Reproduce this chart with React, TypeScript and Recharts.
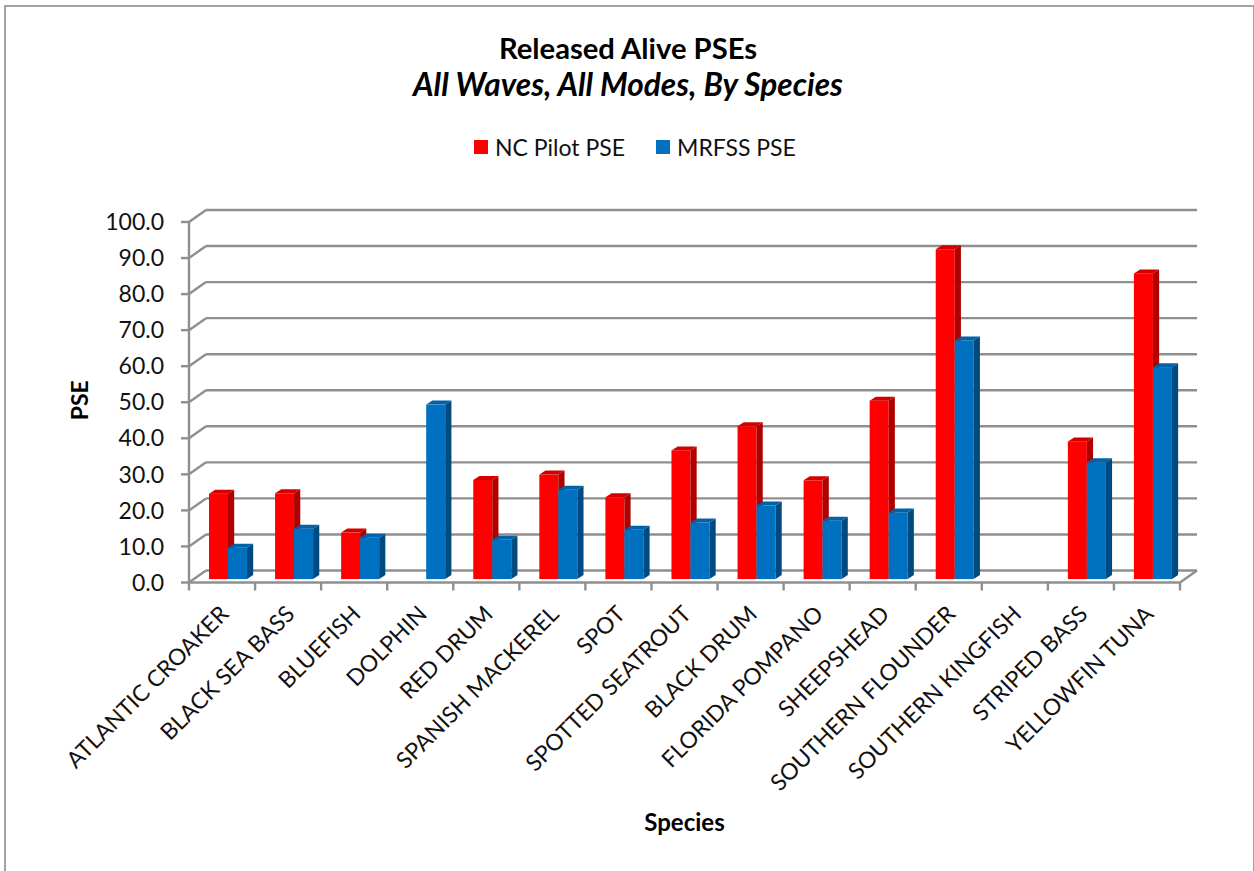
import React from 'react';
import { ComposedChart, Bar, XAxis, YAxis, CartesianGrid, Legend } from 'recharts';

const species = ['ATLANTIC CROAKER','BLACK SEA BASS','BLUEFISH','DOLPHIN','RED DRUM','SPANISH MACKEREL','SPOT','SPOTTED SEATROUT','BLACK DRUM','FLORIDA POMPANO','SHEEPSHEAD','SOUTHERN FLOUNDER','SOUTHERN KINGFISH','STRIPED BASS','YELLOWFIN TUNA'];
const ncPilot = [23.7,23.8,12.9,null,27.5,29,22.7,35.7,42.4,27.4,49.5,91.5,null,38.2,84.8];
const mrfss = [8.7,14,11.5,48.4,10.9,24.8,13.7,15.7,20.4,16.2,18.5,66.2,null,32.4,58.8];
const yTicks = [0,10,20,30,40,50,60,70,80,90,100];

const data = species.map((name, i) => ({ name, nc: ncPilot[i], mrfss: mrfss[i] }));

const FONT = 'Lato, "Open Sans", sans-serif';
const GRAY = '#8f8f8f';
const PLOT_L = 189, PLOT_R = 1180, PLOT_T = 222, PLOT_B = 582.5;
const BAND = (PLOT_R - PLOT_L) / species.length;
const WALL_DX = 17, WALL_DY = -12;

const bar3d = (front: string, top: string, side: string) => (p: any) => {
  if (p.value == null || !(p.height > 0)) return null;
  const x = p.x + 6, y = p.y - 3.4, w = p.width, h = p.height, dx = 6.2, dy = 4;
  return (
    <g>
      <rect x={x} y={y} width={w} height={h} fill={front} />
      <polygon points={`${x},${y} ${x + dx},${y - dy} ${x + w + dx},${y - dy} ${x + w},${y}`} fill={top} />
      <polygon points={`${x + w},${y} ${x + w + dx},${y - dy} ${x + w + dx},${y + h - dy} ${x + w},${y + h}`} fill={side} />
    </g>
  );
};

const gridLine = (p: any) => {
  const { x1, x2, y1 } = p;
  const isFloor = Math.abs(y1 - PLOT_B) < 1;
  return (
    <g key={`g-${y1}`}>
      <line x1={x1} y1={y1} x2={x1 + WALL_DX} y2={y1 + WALL_DY} stroke={GRAY} strokeWidth={2.4} />
      <line x1={x1 + WALL_DX} y1={y1 + WALL_DY} x2={x2 + WALL_DX} y2={y1 + WALL_DY} stroke={GRAY} strokeWidth={2.4} />
      {isFloor && <line x1={x2} y1={y1} x2={x2 + WALL_DX} y2={y1 + WALL_DY} stroke={GRAY} strokeWidth={2.4} />}
    </g>
  );
};

const XTick = (p: any) => {
  const { x, y, payload, index } = p;
  const left = x - BAND / 2;
  const tx = x + 8, ty = y + 25;
  return (
    <g>
      <line x1={left} y1={PLOT_B} x2={left} y2={PLOT_B + 8} stroke={GRAY} strokeWidth={2.4} />
      {index === species.length - 1 && (
        <line x1={left + BAND} y1={PLOT_B} x2={left + BAND} y2={PLOT_B + 8} stroke={GRAY} strokeWidth={2.4} />
      )}
      <text x={tx} y={ty} transform={`rotate(-45 ${tx} ${ty})`} textAnchor="end" fontFamily={FONT} fontSize={22.8} fill="#111">
        {payload.value}
      </text>
    </g>
  );
};

const legendContent = (p: any) => (
  <div style={{ display: 'flex', justifyContent: 'flex-start', paddingLeft: 474, fontFamily: FONT, fontSize: 23, lineHeight: '30px', color: '#111' }}>
    {(p.payload || []).map((e: any) => (
      <div key={e.value} style={{ display: 'flex', alignItems: 'center', marginRight: 31 }}>
        <span style={{ display: 'inline-block', width: 14, height: 14, background: e.color, marginRight: 7 }} />
        <span>{e.value}</span>
      </div>
    ))}
  </div>
);

export default function App() {
  return (
    <div style={{ position: 'absolute', left: 0, top: 0, width: 1254, height: 871, overflow: 'hidden', background: '#fff', fontFamily: FONT }}>
      <div style={{ position: 'absolute', left: 4, top: 5, width: 1247, height: 900, border: '2px solid #a3a3a3' }} />
      <div style={{ position: 'absolute', left: 0, width: 1254, top: 29, textAlign: 'center', paddingLeft: 1, fontWeight: 700, lineHeight: '37px', color: '#000' }}>
        <div style={{ fontSize: 29.2 }}>Released Alive PSEs</div>
        <div style={{ fontSize: 31.6, fontStyle: 'italic' }}>All Waves, All Modes, By Species</div>
      </div>
      <ComposedChart
        width={1254}
        height={871}
        data={data}
        barGap={0}
        barSize={19}
        margin={{ left: 129, right: 74, top: PLOT_T, bottom: 0 }}
        style={{ position: 'absolute', left: 0, top: 0 }}
      >
        <CartesianGrid vertical={false} horizontal={gridLine} />
        <XAxis
          dataKey="name"
          interval={0}
          height={871 - PLOT_B}
          tick={XTick}
          tickLine={false}
          axisLine={{ stroke: GRAY, strokeWidth: 2.4 }}
          label={{ value: 'Species', position: 'insideBottom', offset: 40, fontFamily: FONT, fontWeight: 700, fontSize: 24, fill: '#000' }}
        />
        <YAxis
          width={60}
          domain={[0, 100]}
          ticks={yTicks}
          interval={0}
          tickFormatter={(v: number) => v.toFixed(1)}
          tickSize={8}
          tickMargin={17}
          tick={{ fontFamily: FONT, fontSize: 23, fill: '#111' }}
          tickLine={{ stroke: GRAY, strokeWidth: 2.4 }}
          axisLine={{ stroke: GRAY, strokeWidth: 2.4 }}
          label={{ value: 'PSE', angle: -90, position: 'insideLeft', dx: -54, dy: 18, fontFamily: FONT, fontWeight: 700, fontSize: 23, fill: '#000' }}
        />
        <Legend
          layout="horizontal"
          verticalAlign="middle"
          align="center"
          itemSorter={null}
          content={legendContent}
          wrapperStyle={{ position: 'absolute', top: 132, left: 0, width: 1254 }}
        />
        <Bar dataKey="nc" name="NC Pilot PSE" fill="#ff0000" isAnimationActive={false} shape={bar3d('#ff0000', '#d40000', '#b00000')} />
        <Bar dataKey="mrfss" name="MRFSS PSE" fill="#0070c0" isAnimationActive={false} shape={bar3d('#0070c0', '#0062a8', '#004a80')} />
      </ComposedChart>
    </div>
  );
}
